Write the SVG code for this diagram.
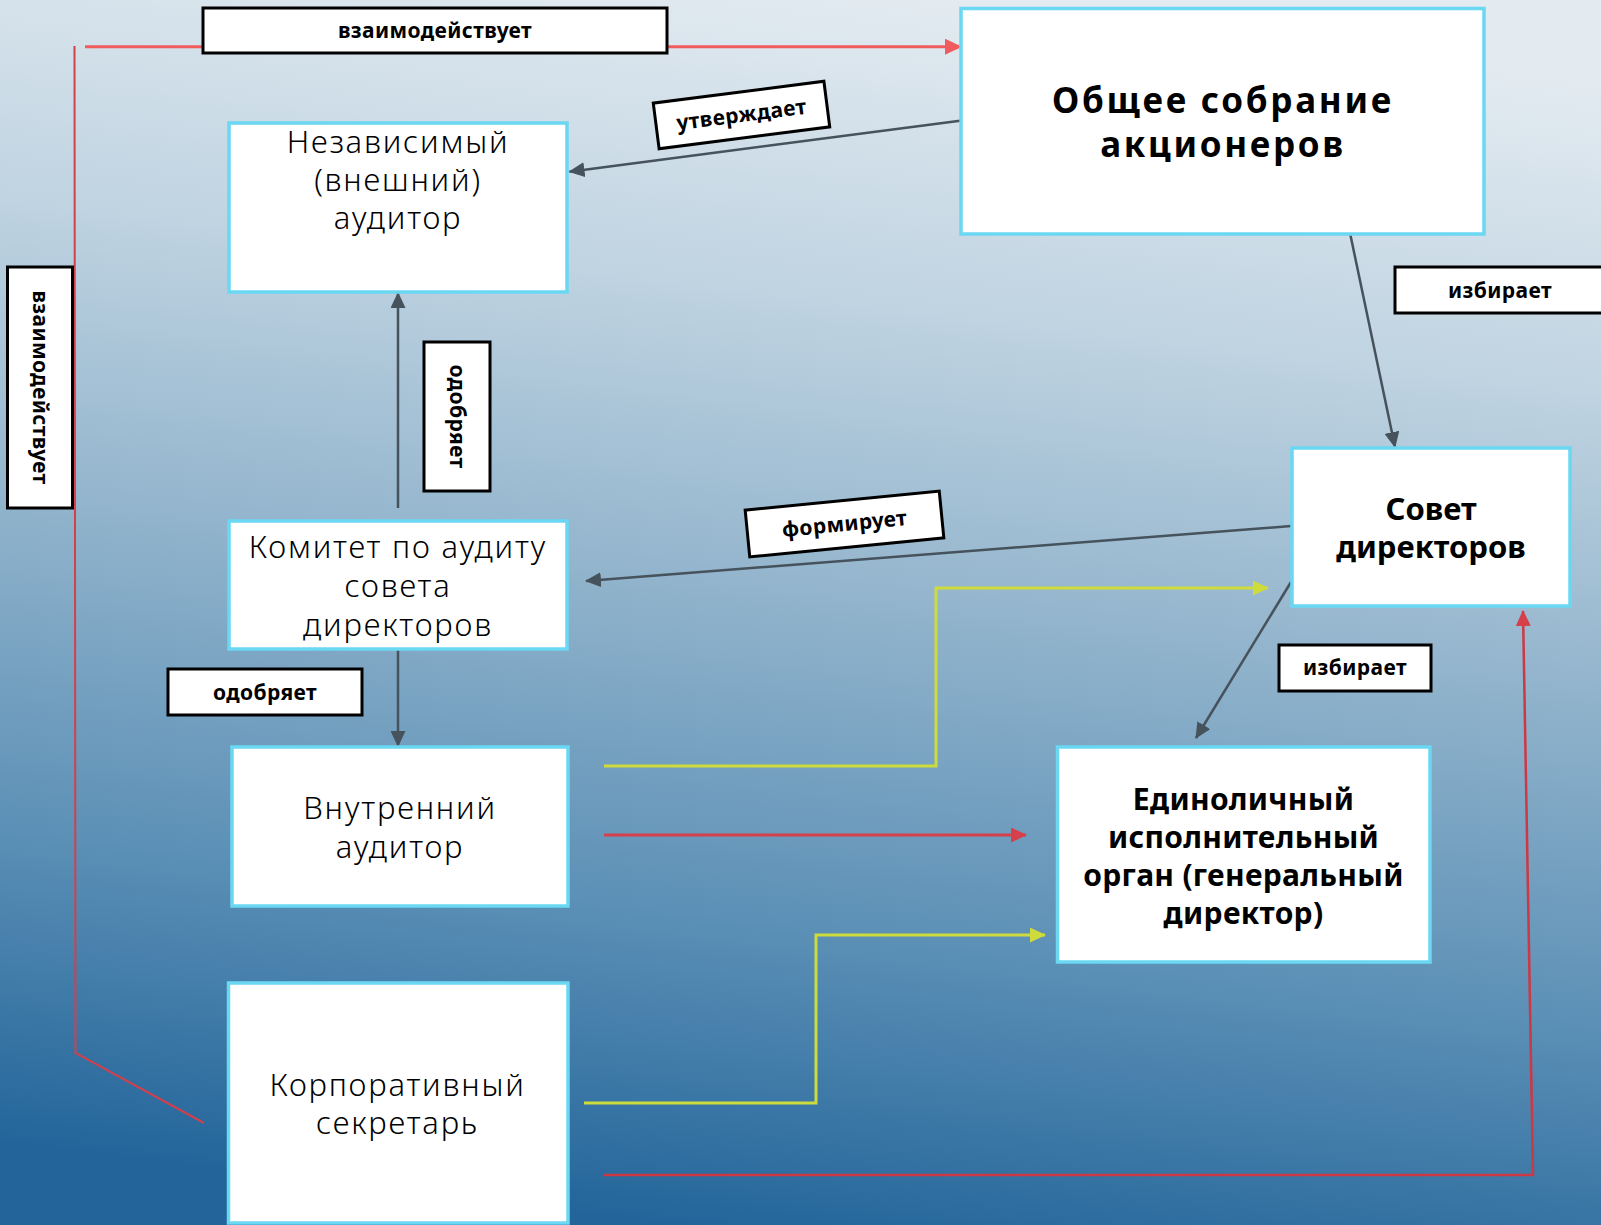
<svg xmlns="http://www.w3.org/2000/svg" width="1601" height="1225" viewBox="0 0 1601 1225">
<defs>
<linearGradient id="bg" x1="0.58" y1="0" x2="0.42" y2="1">
<stop offset="0" stop-color="#e3ebf1"/>
<stop offset="0.25" stop-color="#bfd3e1"/>
<stop offset="0.5" stop-color="#8fb2cb"/>
<stop offset="0.75" stop-color="#5c90b6"/>
<stop offset="1" stop-color="#23659a"/>
</linearGradient>
<marker id="ag" markerUnits="userSpaceOnUse" markerWidth="17" markerHeight="15" refX="15" refY="7.5" orient="auto"><path d="M0,0 L16,7.5 L0,15 z" fill="#46525c"/></marker>
<marker id="ay" markerUnits="userSpaceOnUse" markerWidth="17" markerHeight="15" refX="15" refY="7.5" orient="auto"><path d="M0,0 L16,7.5 L0,15 z" fill="#cddc3c"/></marker>
<marker id="ar" markerUnits="userSpaceOnUse" markerWidth="17" markerHeight="15" refX="15" refY="7.5" orient="auto"><path d="M0,0 L16,7.5 L0,15 z" fill="#d6404a"/></marker>
<marker id="ac" markerUnits="userSpaceOnUse" markerWidth="18" markerHeight="16" refX="16" refY="8" orient="auto"><path d="M0,0 L17,8 L0,16 z" fill="#f05c5e"/></marker>
</defs>
<style>
.node{fill:#ffffff;stroke:#6ad8f2;stroke-width:3.5}
.lab{fill:#ffffff;stroke:#000000;stroke-width:3}
.nt{font-family:"Noto Sans","DejaVu Sans",sans-serif;font-size:31px;font-weight:300;letter-spacing:1.8px;fill:#000;text-anchor:middle}
.bt{font-family:"Noto Sans","DejaVu Sans",sans-serif;font-weight:700;fill:#000;text-anchor:middle}
.lt{font-family:"Noto Sans","DejaVu Sans",sans-serif;font-size:21px;font-weight:700;letter-spacing:0.4px;fill:#000;text-anchor:middle}
.g{fill:none;stroke:#46525c;stroke-width:2.5}
.y{fill:none;stroke:#cddc3c;stroke-width:3}
.r{fill:none;stroke:#d6404a;stroke-width:3}
</style>
<rect x="0" y="0" width="1601" height="1225" fill="url(#bg)"/>

<g id="connectors">
<path d="M74.5,46 L75.5,1053 L204,1123" fill="none" stroke="#d2404c" stroke-width="2"/>
<path d="M85,46.7 L961,46.7" fill="none" stroke="#f05c5e" stroke-width="3" marker-end="url(#ac)"/>
<path class="g" d="M962,120.5 L569.5,171.7" marker-end="url(#ag)"/>
<path class="g" d="M1350,233 L1395,447" marker-end="url(#ag)"/>
<path class="g" d="M398,508 L398,293" marker-end="url(#ag)"/>
<path class="g" d="M398,649 L398,746" marker-end="url(#ag)"/>
<path class="g" d="M1291,526 L586,581" marker-end="url(#ag)"/>
<path class="g" d="M1291,582 L1196,738" marker-end="url(#ag)"/>
<path class="y" d="M604,766 L936,766 L936,588 L1268,588" marker-end="url(#ay)"/>
<path class="r" d="M604,835 L1026,835" marker-end="url(#ar)"/>
<path class="y" d="M584,1103 L816,1103 L816,935 L1045,935" marker-end="url(#ay)"/>
<path d="M604,1175 L1533,1175 L1523,611" fill="none" stroke="#cc3844" stroke-width="2.5" marker-end="url(#ar)"/>
</g>

<g id="node-shareholders">
<rect class="node" x="961" y="8.5" width="523" height="225.5"/>
<text class="bt" font-size="35" letter-spacing="2.7" x="1223" y="112.5">Общее собрание</text>
<text class="bt" font-size="35" letter-spacing="2.7" x="1223" y="157">акционеров</text>
</g>
<g id="node-external-auditor">
<rect class="node" x="229" y="123" width="338" height="169"/>
<text class="nt" x="398" y="153">Независимый</text>
<text class="nt" x="398" y="191">(внешний)</text>
<text class="nt" x="398" y="229">аудитор</text>
</g>
<g id="node-audit-committee">
<rect class="node" x="229" y="521" width="338" height="128"/>
<text class="nt" x="398" y="558">Комитет по аудиту</text>
<text class="nt" x="398" y="597">совета</text>
<text class="nt" x="398" y="636">директоров</text>
</g>
<g id="node-internal-auditor">
<rect class="node" x="232" y="747" width="336" height="159"/>
<text class="nt" x="400" y="819">Внутренний</text>
<text class="nt" x="400" y="858">аудитор</text>
</g>
<g id="node-secretary">
<rect class="node" x="228.5" y="983" width="339.5" height="240"/>
<text class="nt" x="397.5" y="1096">Корпоративный</text>
<text class="nt" x="397.5" y="1134">секретарь</text>
</g>
<g id="node-board">
<rect class="node" x="1292" y="448" width="278" height="158"/>
<text class="bt" font-size="31" x="1431" y="520">Совет</text>
<text class="bt" font-size="31" x="1431" y="558">директоров</text>
</g>
<g id="node-ceo">
<rect class="node" x="1057.5" y="747" width="372.5" height="215"/>
<text class="bt" font-size="30" letter-spacing="0.3" x="1243.5" y="810">Единоличный</text>
<text class="bt" font-size="30" letter-spacing="0.3" x="1243.5" y="848">исполнительный</text>
<text class="bt" font-size="30" letter-spacing="0.3" x="1243.5" y="886">орган (генеральный</text>
<text class="bt" font-size="30" letter-spacing="0.3" x="1243.5" y="924">директор)</text>
</g>

<g id="labels">
<g id="label-interacts-top">
<rect class="lab" x="203" y="8" width="464" height="45"/>
<text class="lt" x="435" y="38">взаимодействует</text>
</g>
<g id="label-approves-top" transform="translate(741.5,115) rotate(-7.3)">
<rect class="lab" x="-86" y="-23" width="172" height="46"/>
<text class="lt" x="0" y="7">утверждает</text>
</g>
<g id="label-interacts-left" transform="translate(40,387.5) rotate(90)">
<rect class="lab" x="-120.5" y="-32.5" width="241" height="65"/>
<text class="lt" x="0" y="7">взаимодействует</text>
</g>
<g id="label-endorses-vertical" transform="translate(457,416.5) rotate(90)">
<rect class="lab" x="-74.5" y="-33" width="149" height="66"/>
<text class="lt" x="0" y="7">одобряет</text>
</g>
<g id="label-elects-top">
<rect class="lab" x="1395" y="267" width="240" height="46"/>
<text class="lt" x="1500" y="298">избирает</text>
</g>
<g id="label-forms" transform="translate(844.5,524) rotate(-5.6)">
<rect class="lab" x="-97.5" y="-23.5" width="195" height="47"/>
<text class="lt" x="0" y="7">формирует</text>
</g>
<g id="label-elects-bottom">
<rect class="lab" x="1279" y="645" width="152" height="46"/>
<text class="lt" x="1355" y="675">избирает</text>
</g>
<g id="label-endorses-left">
<rect class="lab" x="168" y="669" width="194" height="46"/>
<text class="lt" x="265" y="700">одобряет</text>
</g>
</g>
</svg>
